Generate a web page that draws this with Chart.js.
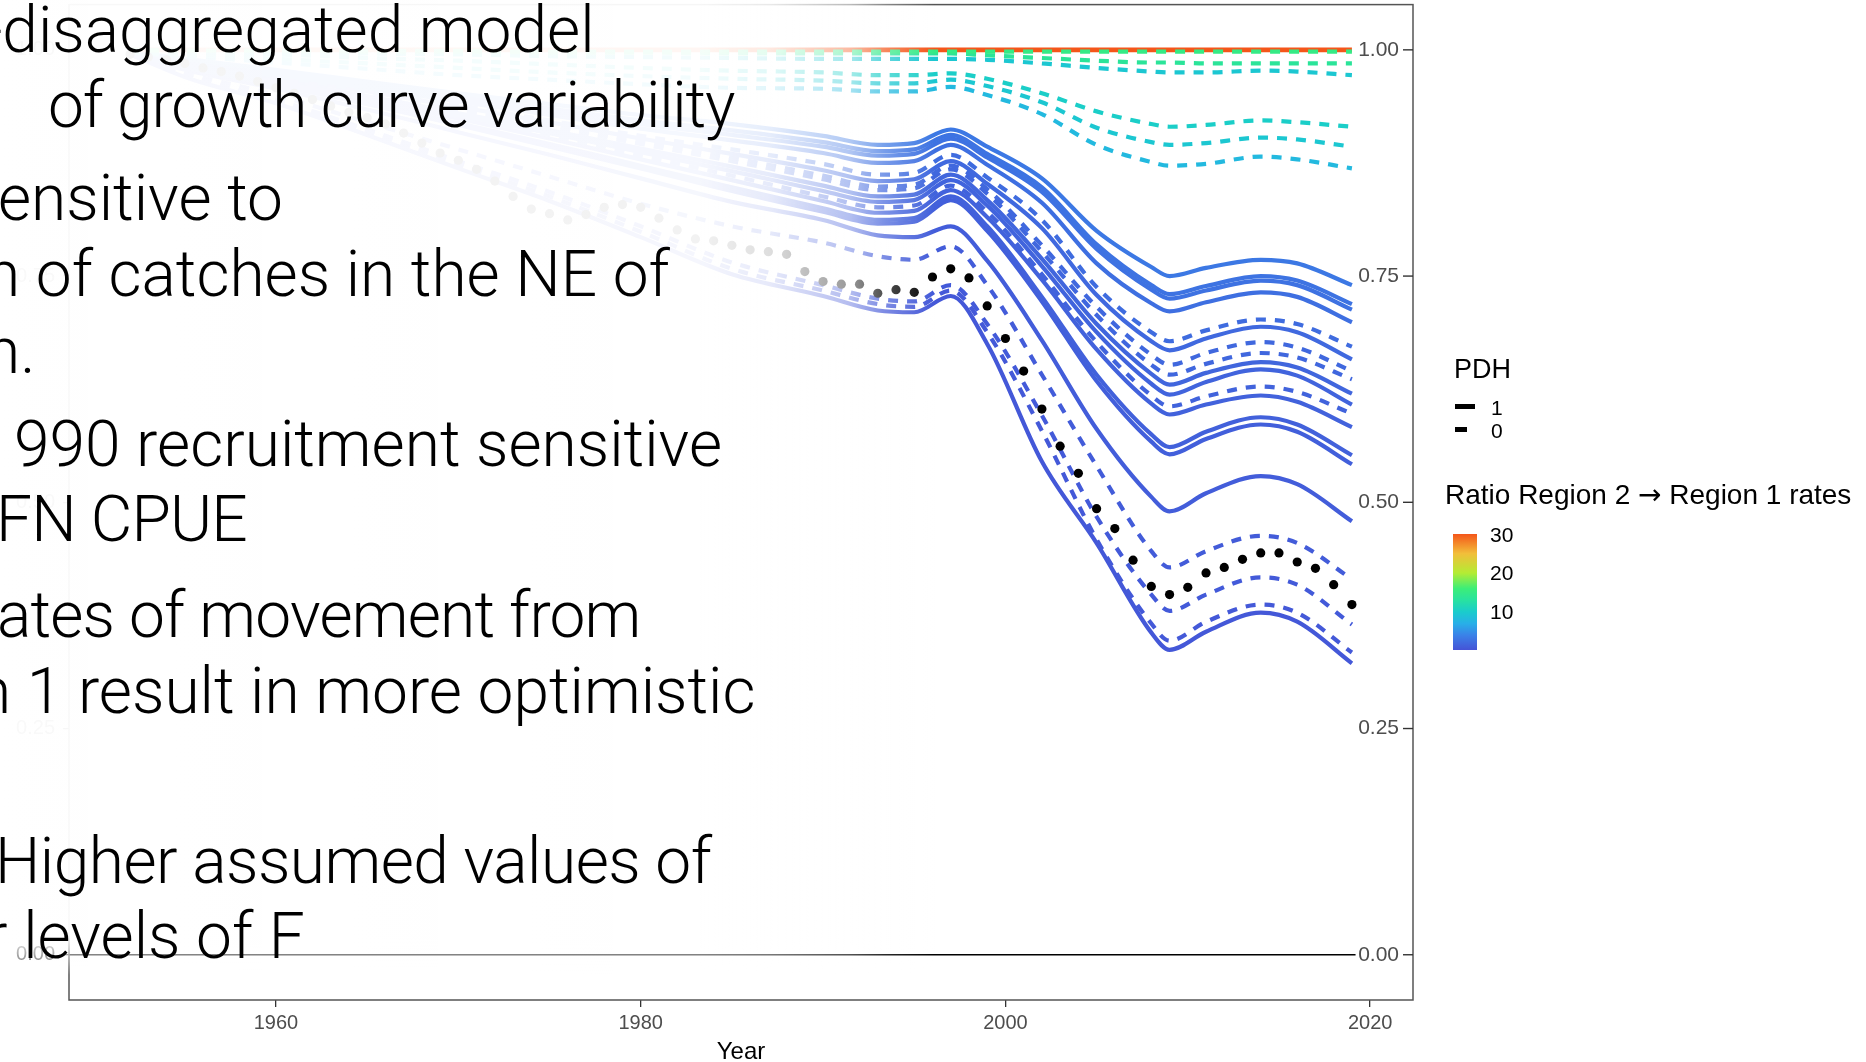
<!DOCTYPE html>
<html>
<head>
<meta charset="utf-8">
<script src="https://cdn.jsdelivr.net/npm/chart.js@4.4.0/dist/chart.umd.min.js"></script>
<style>
  html, body { margin: 0; padding: 0; background: #fff; }
  #wrap { position: relative; width: 1866px; height: 1062px; overflow: hidden; }
  #chart { position: absolute; left: 0; top: 0; }
  /* white veil over the left of the plot, under the slide text */
  #veil {
    position: absolute; left: 0; top: 0; width: 940px; height: 980px;
    background: linear-gradient(to right, rgba(255,255,255,0.965) 0px, rgba(255,255,255,0.95) 700px,
      rgba(255,255,255,0.87) 770px, rgba(255,255,255,0.6) 850px, rgba(255,255,255,0.3) 885px,
      rgba(255,255,255,0) 935px);
    -webkit-mask-image: linear-gradient(to bottom, #000 0px, #000 935px, rgba(0,0,0,0.5) 956px, rgba(0,0,0,0) 975px);
    mask-image: linear-gradient(to bottom, #000 0px, #000 935px, rgba(0,0,0,0.5) 956px, rgba(0,0,0,0) 975px);
  }
  .slide { position: absolute; font-family: Roboto, 'Open Sans', sans-serif; font-weight: 300;
    font-size: 64px; line-height: 64px; color: #000; white-space: nowrap; }
  .leg { position: absolute; font-family: 'Liberation Sans', Arial, sans-serif; color: #000; white-space: nowrap; }
  .arrow { font-family: 'DejaVu Sans', sans-serif; }
  .key { position: absolute; background: #000; height: 5px; }
  #bar { position: absolute; left: 1453px; top: 534px; width: 24px; height: 116px; }
</style>
</head>
<body>
<div id="wrap">
  <canvas id="chart" width="1866" height="1062"></canvas>
  <div id="veil"></div>

  <div class="slide" style="left:-16px; top:-1px;">-disaggregated model</div>
  <div class="slide" style="left:48px; top:74px; letter-spacing:-1.2px;">of growth curve variability</div>
  <div class="slide" style="left:-2px; top:167px;">ensitive to</div>
  <div class="slide" style="left:-15px; top:243px;">n of catches in the NE of</div>
  <div class="slide" style="left:-15px; top:320px;">n.</div>
  <div class="slide" style="left:14px; top:413px;">990 recruitment sensitive</div>
  <div class="slide" style="left:-4px; top:488px; letter-spacing:-0.8px;">FN CPUE</div>
  <div class="slide" style="left:-3px; top:584px; letter-spacing:-0.8px;">ates of movement from</div>
  <div class="slide" style="left:-24px; top:660px;">n 1 result in more optimistic</div>
  <div class="slide" style="left:-5px; top:830px; letter-spacing:-0.5px;">Higher assumed values of</div>
  <div class="slide" style="left:-14px; top:905px;">r levels of F</div>

  <div class="leg" style="left:1454px; top:356px; font-size:27px; line-height:27px;">PDH</div>
  <div class="key" style="left:1455px; top:404px; width:20px;"></div>
  <div class="leg" style="left:1491px; top:397px; font-size:21px; line-height:21px;">1</div>
  <div class="key" style="left:1455px; top:427px; width:12px;"></div>
  <div class="leg" style="left:1491px; top:420px; font-size:21px; line-height:21px;">0</div>
  <div class="leg" style="left:1445px; top:481px; font-size:28px; line-height:28px;">Ratio Region 2 <span class="arrow">→</span> Region 1 rates</div>
  <div id="bar"></div>
</div>

<script>
var lineYears = [1952, 1955, 1960, 1965, 1970, 1975, 1980, 1985, 1990, 1993, 1995, 1997, 1999, 2002, 2005, 2008, 2009, 2011, 2014, 2016, 2019];

// black points (base case), one per year
var dotYears = [1952, 1953, 1954, 1955, 1956, 1957, 1958, 1959, 1960, 1961,
                1962, 1963, 1964, 1965, 1966, 1967, 1968, 1969, 1970, 1971,
                1972, 1973, 1974, 1975, 1976, 1977, 1978, 1979, 1980, 1981,
                1982, 1983, 1984, 1985, 1986, 1987, 1988, 1989, 1990, 1991,
                1992, 1993, 1994, 1995, 1996, 1997, 1998, 1999, 2000, 2001,
                2002, 2003, 2004, 2005, 2006, 2007, 2008, 2009, 2010, 2011,
                2012, 2013, 2014, 2015, 2016, 2017, 2018, 2019];
var dotVals = [.995, .992, .989, .985, .980, .976, .971, .965, .958, .952,
               .945, .938, .931, .925, .918, .908, .897, .886, .878, .868,
               .855, .838, .824, .819, .812, .818, .826, .829, .826, .814,
               .801, .791, .789, .784, .779, .777, .774, .755, .744, .741,
               .741, .731, .735, .732, .749, .758, .748, .717, .681, .645,
               .603, .562, .532, .493, .471, .436, .407, .398, .406, .422,
               .428, .437, .444, .444, .434, .427, .409, .387];

// horizontal reference line at zero
var zeroYears = [1948.65, 2019.2];
var zeroVals = [0, 0];

// near-unity runs (high Region 2 -> Region 1 ratio)
var T1 = [1, 1, 1, 1, 1, 1, 1, 1, 1, 1, 1, 1, 1, 1, 1, 1, 1, 1, 1, 1, 1];
var T2 = [1, .999, .999, .999, .999, .998, .998, .998, .998, .998, .998, .998, .998, .998, .998, .998, .998, .998, .998, .998, .998];
var T3 = [1, .999, .999, .998, .998, .997, .997, .996, .996, .996, .996, .996, .994, .991, .988, .986, .986, .985, .985, .985, .985];
var T4 = [1, .999, .998, .996, .995, .993, .992, .991, .990, .990, .990, .990, .989, .985, .980, .976, .975, .975, .977, .976, .972];
var C1 = [.999, .997, .995, .991, .988, .984, .980, .977, .975, .972, .972, .974, .968, .952, .932, .918, .915, .917, .922, .920, .915];
var C2 = [.998, .995, .990, .985, .980, .975, .971, .968, .966, .963, .963, .967, .960, .942, .914, .898, .895, .897, .903, .901, .893];
var C3 = [.997, .993, .986, .979, .972, .967, .962, .958, .957, .954, .954, .959, .950, .929, .895, .876, .872, .874, .882, .879, .869];

// low ratio runs (blue)
var B1 = [.998, .990, .978, .965, .952, .940, .928, .918, .905, .895, .897, .912, .893, .858, .800, .760, .750, .759, .768, .764, .740];
var B2 = [.998, .989, .976, .962, .948, .935, .922, .911, .898, .888, .890, .906, .885, .848, .785, .740, .730, .739, .750, .745, .719];
var B2b = [.998, .988, .975, .960, .946, .932, .918, .906, .893, .883, .885, .902, .881, .843, .780, .735, .725, .734, .745, .740, .713];
var B3 = [.998, .987, .973, .958, .943, .928, .913, .900, .886, .875, .877, .895, .873, .831, .764, .720, .711, .721, .732, .727, .699];
var B4 = [.997, .986, .971, .955, .939, .922, .905, .890, .874, .862, .864, .884, .859, .812, .738, .688, .678, .690, .702, .697, .672];
var B5 = [.997, .985, .970, .954, .937, .920, .902, .885, .867, .855, .857, .877, .852, .803, .729, .678, .668, .681, .694, .688, .658];
var B6 = [.997, .985, .969, .952, .935, .917, .899, .881, .861, .849, .851, .872, .846, .784, .716, .663, .652, .665, .677, .671, .645];
var B7 = [.997, .984, .968, .951, .933, .915, .896, .877, .857, .845, .847, .868, .841, .777, .707, .652, .641, .653, .665, .660, .636];
var B8 = [.997, .984, .967, .949, .930, .911, .891, .871, .850, .838, .840, .862, .834, .769, .697, .642, .630, .643, .655, .649, .620];
var B9 = [.997, .983, .966, .947, .928, .908, .887, .866, .844, .832, .834, .856, .828, .761, .688, .631, .619, .633, .647, .640, .608];
var B10 = [.996, .983, .965, .946, .926, .905, .883, .861, .838, .826, .828, .850, .821, .752, .677, .618, .606, .617, .628, .622, .598];
var B11 = [.996, .982, .964, .944, .924, .902, .879, .856, .833, .820, .822, .845, .815, .746, .669, .609, .597, .608, .618, .611, .583];
var B12 = [.996, .981, .962, .941, .919, .896, .872, .848, .825, .812, .814, .838, .805, .727, .641, .575, .561, .578, .594, .586, .552];
var B13 = [.996, .981, .961, .940, .917, .893, .869, .844, .821, .808, .810, .834, .800, .722, .634, .567, .553, .570, .586, .578, .542];
var B14 = [.995, .978, .957, .934, .909, .884, .858, .832, .812, .795, .793, .805, .767, .679, .581, .506, .490, .510, .529, .520, .479];
var B15 = [.995, .975, .950, .920, .890, .860, .830, .805, .787, .772, .768, .783, .740, .641, .540, .446, .428, .446, .463, .455, .415];
var B16 = [.995, .972, .945, .912, .877, .843, .805, .765, .740, .725, .722, .740, .697, .596, .484, .398, .380, .398, .417, .409, .365];
var B17 = [.995, .971, .943, .909, .873, .838, .799, .758, .734, .719, .716, .734, .688, .579, .459, .366, .347, .368, .387, .378, .334];
var B18 = [.995, .970, .941, .906, .869, .833, .793, .752, .728, .712, .710, .728, .675, .545, .455, .356, .337, .357, .378, .368, .322];

// which run, its ratio (colour) and PDH (1 solid, 0 dashed); first listed is drawn on top
var runValues = [T2, T3, T4, T1, C1, C2, C3, B1, B2, B2b, B3, B4, B5, B6, B7, B8, B9, B10, B11, B12, B13, B14, B15, B16, B17, B18];
var runRatio = [15, 13.5, 9.5, 30, 10.3, 9.5, 8, 3.2, 2.8, 2.7, 2.5, 2.2, 2.0, 1.9, 1.8, 1.7, 1.6, 1.5, 1.4, 1.3, 1.2, 1.0, 0.9, 0.8, 0.7, 0.6];
var runPDH = [0, 0, 0, 1, 0, 0, 0, 1, 1, 1, 1, 0, 1, 0, 0, 1, 1, 0, 1, 1, 1, 1, 0, 0, 0, 1];

var yTicks = [0, 0.25, 0.5, 0.75, 1];
var xTicks = [1960, 1980, 2000, 2020];
var cbTicks = [10, 20, 30];
var cbMin = 0.2, cbMax = 30;

// colour bar stops
var cbStops = [[0.2, '#4553d6'], [4, '#3a82e8'], [7, '#28afe8'], [10, '#1acccc'], [13, '#28e2a0'],
               [16, '#3cee78'], [20, '#b4ec34'], [25, '#f2be3a'], [30, '#f4561a']];

function hexRgb(h) {
    return [parseInt(h.substr(1, 2), 16), parseInt(h.substr(3, 2), 16), parseInt(h.substr(5, 2), 16)];
}

function ratioColor(r) {
    for (var i = 1; i < cbStops.length; i++) {
        if (r <= cbStops[i][0]) {
            var a = cbStops[i - 1], b = cbStops[i];
            var t = (r - a[0]) / (b[0] - a[0]);
            var ca = hexRgb(a[1]), cb = hexRgb(b[1]);
            var c = ca.map(function(v, k) { return Math.round(v + (cb[k] - v) * t); });
            return 'rgb(' + c.join(',') + ')';
        }
    }
    return cbStops[cbStops.length - 1][1];
}

function xy(xs, vs) {
    return xs.map(function(x, i) { return {x: x, y: vs[i]}; });
}

// colour bar and its labels
var bar = document.getElementById('bar');
var grad = cbStops.map(function(s) {
    return s[1] + ' ' + ((s[0] - cbMin) / (cbMax - cbMin) * 100).toFixed(1) + '%';
});
bar.style.background = 'linear-gradient(to top, ' + grad.join(', ') + ')';
cbTicks.forEach(function(t) {
    var d = document.createElement('div');
    d.className = 'leg';
    d.textContent = String(t);
    d.style.fontSize = '21px';
    d.style.lineHeight = '21px';
    d.style.left = '1490px';
    d.style.top = (534 + (cbMax - t) / (cbMax - cbMin) * 116 - 10.5) + 'px';
    document.getElementById('wrap').appendChild(d);
});

var datasets = [];
datasets.push({
    label: 'base', data: xy(dotYears, dotVals), showLine: false,
    pointRadius: 4.6, pointHoverRadius: 4.6, pointBackgroundColor: '#000', pointBorderWidth: 0, borderColor: '#000'
});
datasets.push({
    label: 'zero', data: xy(zeroYears, zeroVals), borderColor: '#000', borderWidth: 1.4, pointRadius: 0
});
runValues.forEach(function(vals, i) {
    datasets.push({
        label: 'run' + i,
        data: xy(lineYears, vals),
        borderColor: ratioColor(runRatio[i]),
        borderWidth: runRatio[i] >= 30 ? 4.6 : 4.2,
        borderDash: runPDH[i] ? [] : [10, 9],
        borderJoinStyle: 'round',
        cubicInterpolationMode: 'monotone',
        pointRadius: 0
    });
});

// panel border and the inside ticks on the right
var framePlugin = {
    id: 'frame',
    afterDatasetsDraw: function(chart) {
        var c = chart.ctx, a = chart.chartArea;
        c.save();
        c.strokeStyle = '#555';
        c.lineWidth = 1.5;
        c.strokeRect(a.left, a.top, a.right - a.left, a.bottom - a.top);
        c.strokeStyle = '#333';
        c.lineWidth = 1.4;
        yTicks.forEach(function(v) {
            var y = chart.scales.yR.getPixelForValue(v);
            c.beginPath();
            c.moveTo(a.right - 10, y);
            c.lineTo(a.right, y);
            c.stroke();
        });
        c.restore();
    }
};

var tickFont = {family: "'Liberation Sans', Arial, sans-serif", size: 20};

function noPad(s) {
    s.paddingTop = 0; s.paddingBottom = 0; s.paddingLeft = 0; s.paddingRight = 0;
}

new Chart(document.getElementById('chart'), {
    type: 'line',
    data: {datasets: datasets},
    plugins: [framePlugin],
    options: {
        responsive: false,
        animation: false,
        devicePixelRatio: 1,
        layout: {padding: {top: 4, left: 0, right: 0, bottom: 0}},
        plugins: {legend: {display: false}, tooltip: {enabled: false}},
        scales: {
            x: {
                type: 'linear', min: 1948.65, max: 2022.35, position: 'bottom',
                afterBuildTicks: function(s) { s.ticks = xTicks.map(function(v) { return {value: v}; }); },
                afterFit: function(s) { s.height = 62; noPad(s); },
                ticks: {font: tickFont, color: '#4d4d4d', padding: 4, maxRotation: 0,
                        callback: function(v) { return String(v); }},
                grid: {drawOnChartArea: false, drawTicks: true, tickLength: 7, color: '#333', lineWidth: 1.3},
                border: {display: false},
                title: {display: true, text: 'Year', color: '#000', padding: {top: 0, bottom: -5},
                        font: {family: "'Liberation Sans', Arial, sans-serif", size: 24}}
            },
            y: {
                type: 'linear', min: -0.05, max: 1.05, position: 'left',
                afterBuildTicks: function(s) { s.ticks = yTicks.map(function(v) { return {value: v}; }); },
                afterFit: function(s) { s.width = 69; noPad(s); },
                ticks: {font: tickFont, color: '#4d4d4d', padding: 8,
                        callback: function(v) { return v.toFixed(2); }},
                grid: {drawOnChartArea: false, drawTicks: true, tickLength: 6, color: '#333', lineWidth: 1.3},
                border: {display: false}
            },
            yR: {
                type: 'linear', min: -0.05, max: 1.05, position: 'right',
                afterBuildTicks: function(s) { s.ticks = yTicks.map(function(v) { return {value: v}; }); },
                afterFit: function(s) { s.width = 453; noPad(s); },
                ticks: {font: {family: "'Liberation Sans', Arial, sans-serif", size: 21}, color: '#4d4d4d',
                        mirror: true, padding: -14,
                        callback: function(v) { return v.toFixed(2); }},
                grid: {display: false},
                border: {display: false}
            }
        }
    }
});
</script>
</body>
</html>
